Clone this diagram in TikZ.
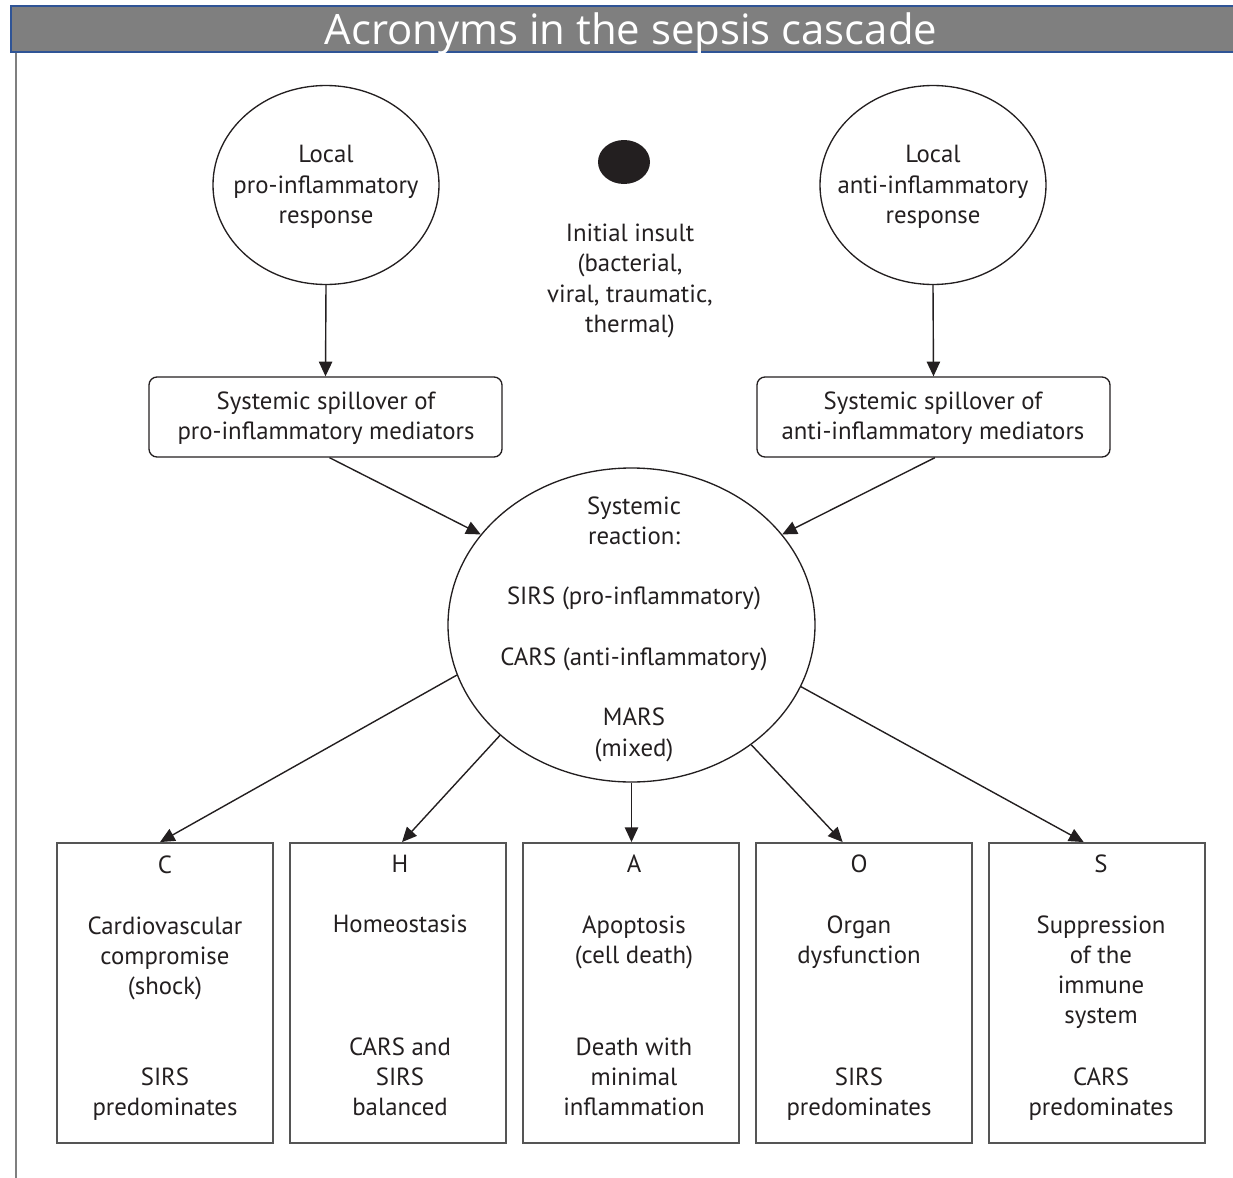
\documentclass[tikz,border=0pt]{standalone}
\usepackage{fontspec}
\setmainfont{PT Sans}
\newfontfamily\titlefont{Open Sans}
\usetikzlibrary{arrows.meta,shapes.geometric}
\definecolor{txt}{HTML}{231F20}
\definecolor{boxgray}{HTML}{555555}
\definecolor{barfill}{HTML}{7F7F7F}
\definecolor{barline}{HTML}{2F5496}
\definecolor{sideline}{HTML}{7F7F7F}
\begin{document}
\begin{tikzpicture}[x=0.75pt,y=-0.75pt,
  body/.style={font=\fontsize{18.6}{22.7}\selectfont, text=txt, align=center, inner sep=0pt},
  bub/.style={ellipse, draw=txt, line width=1pt, inner sep=0pt, body},
  spill/.style={rectangle, rounded corners=6pt, draw=txt, line width=1pt, minimum width=264.75pt, minimum height=60pt, body},
  outc/.style={rectangle, draw=boxgray, line width=1.4pt, minimum width=162pt, minimum height=225pt, inner sep=0pt},
  arr/.style={-{Triangle[length=11pt,width=10pt]}, line width=1.05pt, draw=txt}]
\useasboundingbox (0,0) rectangle (1233,1178);
% title bar
\fill[barfill] (11,6) rectangle (1240,52);
\draw[barline, line width=1.6pt] (1240,6) -- (11,6) -- (11,52) -- (1240,52);
\node[font=\titlefont\fontsize{31.4}{36}\selectfont, text=white, inner sep=0pt] (title) at (631,34) {Acronyms in the sepsis cascade};
% left side line
\draw[sideline, line width=1.4pt] (16,53) -- (16,1178);
% top
\node[bub, minimum width=169.5pt, minimum height=149.25pt] (lcirc) at (326,185) {};
\node[body] (ltext) at (326,187) {Local\\pro-inflammatory\\response};
\node[bub, minimum width=169.5pt, minimum height=149.25pt] (rcirc) at (933,185) {};
\node[body] (rtext) at (933,187) {Local\\anti-inflammatory\\response};
\node[ellipse, fill=txt, minimum width=39pt, minimum height=33pt, inner sep=0pt] (dot) at (624,162) {};
\node[body] (insult) at (630,281) {Initial insult\\(bacterial,\\viral, traumatic,\\thermal)};
\node[spill] (spillL) at (325.5,417) {};
\node[body] (spillLt) at (326,418) {Systemic spillover of\\pro-inflammatory mediators};
\node[spill] (spillR) at (933.5,417) {};
\node[body] (spillRt) at (933,418) {Systemic spillover of\\anti-inflammatory mediators};
\node[bub, minimum width=275.25pt, minimum height=235.5pt] (sys) at (631.5,625) {};
\node[body] (systext) at (634,629) {Systemic\\reaction:\\[22.7pt]SIRS (pro-inflammatory)\\[22.7pt]CARS (anti-inflammatory)\\[22.7pt]MARS\\(mixed)};
% bottom boxes
\node[outc] (boxC) at (165,993) {};
\node[outc] (boxH) at (398,993) {};
\node[outc] (boxA) at (631,993) {};
\node[outc] (boxO) at (864,993) {};
\node[outc] (boxS) at (1097,993) {};
\node[body] (cTop) at (165,928) {C\\[22.7pt]Cardiovascular\\compromise\\(shock)};
\node[body] (cBot) at (165,1094) {SIRS\\predominates};
\node[body] (hTop) at (400,894) {H\\[22.7pt]Homeostasis};
\node[body] (hBot) at (400,1077) {CARS and\\SIRS\\balanced};
\node[body] (aTop) at (634,912) {A\\[22.7pt]Apoptosis\\(cell death)};
\node[body] (aBot) at (634,1077) {Death with\\minimal\\inflammation};
\node[body] (oTop) at (859,912) {O\\[22.7pt]Organ\\dysfunction};
\node[body] (oBot) at (859,1094) {SIRS\\predominates};
\node[body] (sTop) at (1101,942) {S\\[22.7pt]Suppression\\of the\\immune\\system};
\node[body] (sBot) at (1101,1094) {CARS\\predominates};
% arrows
\draw[arr] (lcirc.south) -- (spillL.north);
\draw[arr] (rcirc.south) -- (spillR.north);
\draw[arr] ([xshift=3pt]spillL.south) -- (sys.149.4);
\draw[arr] ([xshift=1pt]spillR.south) -- (sys.31);
\draw[arr] (sys.196.3) -- ([xshift=-3.75pt]boxC.north);
\draw[arr] (sys.220.3) -- ([xshift=3pt]boxH.north);
\draw[arr] (sys.south) -- (sys.south |- boxA.north);
\draw[arr] (sys.315.2) -- ([xshift=-16pt]boxO.north);
\draw[arr] (sys.340.7) -- ([xshift=-10pt]boxS.north);
\end{tikzpicture}
\end{document}
